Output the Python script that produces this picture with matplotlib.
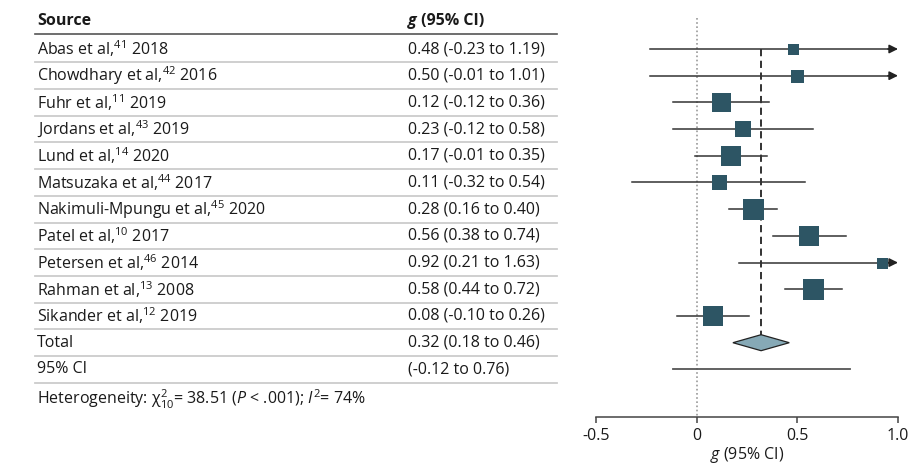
import matplotlib
matplotlib.use("Agg")
import matplotlib.pyplot as plt
from matplotlib.transforms import blended_transform_factory

# ==========================
# Data
# ==========================
sources = [
    "Abas et al,$^{41}$ 2018",
    "Chowdhary et al,$^{42}$ 2016",
    "Fuhr et al,$^{11}$ 2019",
    "Jordans et al,$^{43}$ 2019",
    "Lund et al,$^{14}$ 2020",
    "Matsuzaka et al,$^{44}$ 2017",
    "Nakimuli-Mpungu et al,$^{45}$ 2020",
    "Patel et al,$^{10}$ 2017",
    "Petersen et al,$^{46}$ 2014",
    "Rahman et al,$^{13}$ 2008",
    "Sikander et al,$^{12}$ 2019",
]
g_values = [0.48, 0.50, 0.12, 0.23, 0.17, 0.11, 0.28, 0.56, 0.92, 0.58, 0.08]
ci_low = [-0.23, -0.01, -0.12, -0.12, -0.01, -0.32, 0.16, 0.38, 0.21, 0.44, -0.10]
ci_high = [1.19, 1.01, 0.36, 0.58, 0.35, 0.54, 0.40, 0.74, 1.63, 0.72, 0.26]
# where the drawn whisker starts (the Chowdhary line is drawn from -0.23 in the figure)
line_low = [-0.23, -0.23, -0.12, -0.12, -0.01, -0.32, 0.16, 0.38, 0.21, 0.44, -0.10]
# relative study weights
weights = [11, 13, 19, 16, 20, 15, 21, 20, 11, 21, 20]

total_g = 0.32
total_low = 0.18
total_high = 0.46
pred_low = -0.12
pred_high = 0.76

x_ticks = [-0.5, 0, 0.5, 1.0]
x_tick_labels = ["-0.5", "0", "0.5", "1.0"]

# ==========================
# Style
# ==========================
FONT = "Open Sans"
plt.rcParams["font.family"] = FONT
plt.rcParams["mathtext.fontset"] = "custom"
plt.rcParams["mathtext.rm"] = FONT
plt.rcParams["mathtext.it"] = FONT + ":italic"
plt.rcParams["mathtext.bf"] = FONT + ":bold"

FS = 11.5
SQ = "#2d5564"
DIA = "#86a9b6"
LINE = "#333333"
SEP = "#cccccc"
TXT = "#1a1a1a"

fig = plt.figure(figsize=(9.08, 4.65), dpi=100)
W, H = 908, 465
ax = fig.add_axes([596 / W, 1 - 417 / H, 302 / W, 402 / H])

row_px0, row_step = 49, 26.7
ax.set_xlim(-0.5, 1.0)
ax.set_ylim((417 - row_px0) / row_step, (15 - row_px0) / row_step)

n = len(sources)
tr = blended_transform_factory(fig.transFigure, ax.transData)

# ==========================
# Reference lines
# ==========================
ax.plot([0, 0], [(18 - row_px0) / row_step, ax.get_ylim()[0]],
        color="#999999", linestyle=(0, (1, 1.5)), lw=1.2, zorder=1)
dia_h = 8 / row_step
ax.plot([total_g, total_g], [0, n - dia_h], color="#222222",
        linestyle=(0, (4, 2.5)), lw=1.3, zorder=1)

# ==========================
# Studies
# ==========================
for i in range(n):
    if ci_high[i] > 1.0:
        ax.plot([line_low[i], 0.97], [i, i], color=LINE, lw=1.1, zorder=2)
        ax.annotate("", xy=(1.0, i), xytext=(0.95, i),
                    arrowprops=dict(arrowstyle="-|>", color="#222222",
                                    lw=1.1, mutation_scale=13,
                                    shrinkA=0, shrinkB=0),
                    annotation_clip=False, zorder=2)
    else:
        ax.plot([line_low[i], ci_high[i]], [i, i], color=LINE, lw=1.1, zorder=2)
    ax.plot(g_values[i], i, marker="s", markersize=weights[i] * 0.72,
            color=SQ, markeredgewidth=0, zorder=3)

    ax.text(37 / W, i, sources[i], transform=tr, fontsize=FS,
            va="center", ha="left", color=TXT)
    ax.text(408 / W, i, "%.2f (%.2f to %.2f)" % (g_values[i], ci_low[i], ci_high[i]),
            transform=tr, fontsize=FS, va="center", ha="left", color=TXT)

# ==========================
# Total and prediction interval
# ==========================
ax.fill([total_low, total_g, total_high, total_g],
        [n, n - dia_h, n, n + dia_h],
        facecolor=DIA, edgecolor="#222222", lw=0.9, zorder=3)
ax.plot([pred_low, pred_high], [n + 1, n + 1], color="#555555", lw=1.3, zorder=2)

ax.text(37 / W, n, "Total", transform=tr, fontsize=FS, va="center", color=TXT)
ax.text(408 / W, n, "%.2f (%.2f to %.2f)" % (total_g, total_low, total_high),
        transform=tr, fontsize=FS, va="center", color=TXT)
ax.text(37 / W, n + 1, "95% CI", transform=tr, fontsize=FS, va="center", color=TXT)
ax.text(408 / W, n + 1, "(%.2f to %.2f)" % (pred_low, pred_high),
        transform=tr, fontsize=FS, va="center", color=TXT)

ax.text(37 / W, (399 - row_px0) / row_step,
        r"Heterogeneity: $\mathrm{\chi}^2_{10}$= 38.51 ($P$ < .001); $I^2$= 74%",
        transform=tr, fontsize=FS, va="center", color=TXT)

# ==========================
# Header and table rules
# ==========================
hdr_y = (21 - row_px0) / row_step
ax.text(37 / W, hdr_y, "Source", transform=tr, fontsize=FS,
        fontweight="bold", va="center", color=TXT)
ax.text(408 / W, hdr_y, "g", transform=tr, fontsize=FS, fontweight="bold",
        fontstyle="italic", va="center", color=TXT)
ax.text(417 / W, hdr_y, " (95% CI)", transform=tr, fontsize=FS,
        fontweight="bold", va="center", color=TXT)

ax.plot([35 / W, 557 / W], [(34 - row_px0) / row_step] * 2, transform=tr,
        color="#555555", lw=1.2, clip_on=False)
for k in range(n + 2):
    yk = k + 0.5
    ax.plot([35 / W, 557 / W], [yk, yk], transform=tr,
            color=SEP, lw=1.3, clip_on=False)

# ==========================
# Axis
# ==========================
for s in ["left", "top", "right"]:
    ax.spines[s].set_visible(False)
ax.spines["bottom"].set_color("#444444")
ax.spines["bottom"].set_linewidth(1.1)
ax.set_yticks([])
ax.set_xticks(x_ticks)
ax.set_xticklabels(x_tick_labels)
ax.tick_params(axis="x", length=4, width=1.1, color="#444444",
               labelsize=FS, labelcolor=TXT, pad=4)
ax.set_xlabel("$g$ (95% CI)", fontsize=FS, color=TXT, labelpad=0.5)
ax.patch.set_alpha(0)

fig.savefig("out.png", dpi=100)
